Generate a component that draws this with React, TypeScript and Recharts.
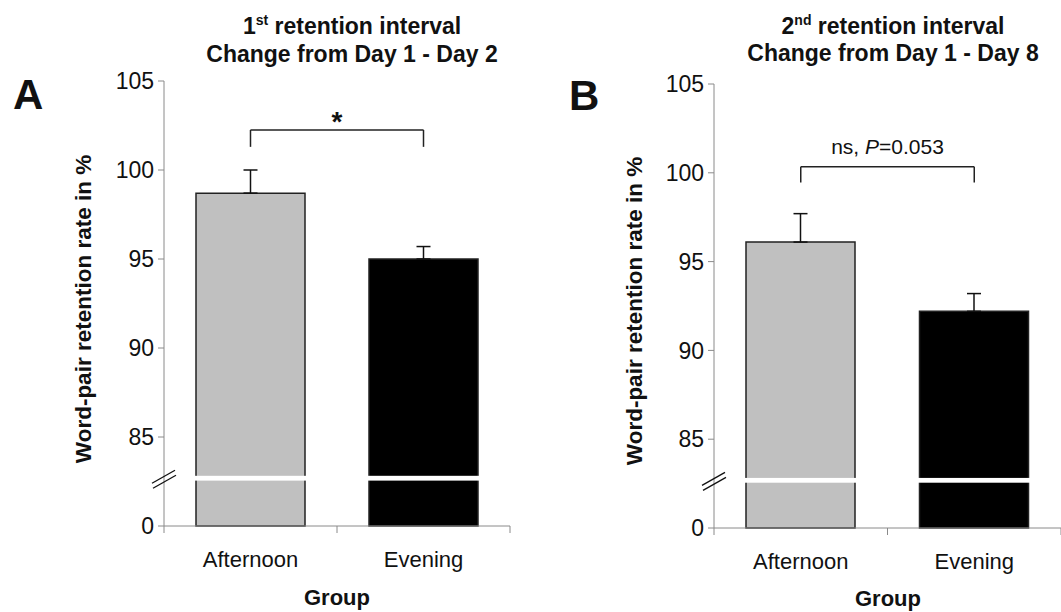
import { BarChart, Bar, XAxis, YAxis, ErrorBar, Cell, ReferenceLine, ReferenceArea } from 'recharts'

const FONT = '"Liberation Sans", Arial, Helvetica, sans-serif'
const AXIS = '#8a8a8a'
const INK = '#111'

const groups = ['Afternoon', 'Evening']
const barColors = ['#c0c0c0', '#000000']

// panel A: change Day 1 -> Day 2 (mean, upper SEM)
const day2Mean = [98.7, 95.0]
const day2Sem = [1.3, 0.7]
// panel B: change Day 1 -> Day 8
const day8Mean = [96.1, 92.2]
const day8Sem = [1.6, 1.0]

// broken axis: the bottom tick (80) is drawn as "0"
const yTicks = [80, 85, 90, 95, 100, 105]
const yDomain = [80, 105]
const breakBand = [82.55, 82.82]

const bracketA = { top: 102.25, foot: 101.3 }
const bracketB = { top: 100.34, foot: 99.45 }
const pValueB = '0.053'

const day2Data = groups.map((g, i) => ({ group: g, mean: day2Mean[i], err: [0, day2Sem[i]] }))
const day8Data = groups.map((g, i) => ({ group: g, mean: day8Mean[i], err: [0, day8Sem[i]] }))

function GroupTick(props: any) {
  const { x, y, payload, index } = props
  const half = typeof payload?.offset === 'number' && payload.offset > 0 ? payload.offset : 86.5
  return (
    <g>
      {index === 0 && <line x1={x - half} x2={x - half} y1={y} y2={y + 7} stroke={AXIS} />}
      <line x1={x + half} x2={x + half} y1={y} y2={y + 7} stroke={AXIS} />
      <text x={x} y={y + 41} textAnchor="middle" fontSize={22} fill={INK} fontFamily={FONT}>
        {payload.value}
      </text>
    </g>
  )
}

function AxisBreak(props: any) {
  const { x, y, width, height } = props
  const cy = y + height / 2
  return (
    <g>
      <rect x={x + 1} y={y} width={width} height={height} fill="#fff" />
      <line x1={x - 12} y1={cy + 5} x2={x + 11} y2={cy - 8} stroke={INK} strokeWidth={1.3} />
      <line x1={x - 11} y1={cy + 10} x2={x + 12} y2={cy - 3} stroke={INK} strokeWidth={1.3} />
    </g>
  )
}

function starLabel(props: any) {
  const vb = props.viewBox || {}
  const cx = vb.x + (vb.width || 0) / 2
  return (
    <text x={cx} y={vb.y + 1} textAnchor="middle" fontSize={28} fontWeight="bold" fill={INK} fontFamily={FONT}>
      *
    </text>
  )
}

function pLabel(props: any) {
  const vb = props.viewBox || {}
  const cx = vb.x + (vb.width || 0) / 2
  return (
    <text x={cx} y={vb.y - 13} textAnchor="middle" fontSize={21} fill={INK} fontFamily={FONT}>
      ns, <tspan fontStyle="italic">P</tspan>={pValueB}
    </text>
  )
}

function Panel({ data, width, margin, bracket, label }: any) {
  const line = { stroke: '#222', strokeWidth: 1.5 }
  return (
    <BarChart width={width} height={612} data={data} margin={margin}>
      <XAxis
        dataKey="group"
        stroke={AXIS}
        tickLine={false}
        tickSize={0}
        tickMargin={0}
        interval={0}
        tick={<GroupTick />}
      />
      <YAxis
        type="number"
        domain={yDomain}
        ticks={yTicks}
        interval={0}
        width={60}
        stroke={AXIS}
        tickSize={6}
        tickMargin={4}
        tick={{ fill: INK, fontSize: 23, fontFamily: FONT }}
        tickFormatter={(v: number) => (v === 80 ? '0' : String(v))}
      />
      <Bar dataKey="mean" barSize={109} stroke="#222" strokeWidth={1.5} isAnimationActive={false}>
        {data.map((d: any, i: number) => (
          <Cell key={d.group} fill={barColors[i]} />
        ))}
        <ErrorBar dataKey="err" width={7} stroke={INK} strokeWidth={1.5} isAnimationActive={false} />
      </Bar>
      <ReferenceLine
        segment={[{ x: groups[0], y: bracket.top }, { x: groups[1], y: bracket.top }]}
        {...line}
        label={{ content: label }}
      />
      <ReferenceLine segment={[{ x: groups[0], y: bracket.top }, { x: groups[0], y: bracket.foot }]} {...line} />
      <ReferenceLine segment={[{ x: groups[1], y: bracket.top }, { x: groups[1], y: bracket.foot }]} {...line} />
      <ReferenceArea y1={breakBand[0]} y2={breakBand[1]} ifOverflow="visible" shape={<AxisBreak />} zIndex={1500} />
    </BarChart>
  )
}

export default function App() {
  return (
    <div style={{ position: 'absolute', left: 0, top: 0, width: 1061, height: 612, background: '#fff' }}>
      <div style={{ position: 'absolute', left: 0, top: 0 }}>
        <Panel data={day2Data} width={530} margin={{ top: 81, right: 20, left: 104, bottom: 56 }} bracket={bracketA} label={starLabel} />
      </div>
      <div style={{ position: 'absolute', left: 530, top: 0 }}>
        <Panel data={day8Data} width={531} margin={{ top: 84, right: 0, left: 124, bottom: 54 }} bracket={bracketB} label={pLabel} />
      </div>
      <svg width={1061} height={612} style={{ position: 'absolute', left: 0, top: 0, pointerEvents: 'none' }} fontFamily={FONT} fill={INK}>
        <text x={13} y={109} fontSize={42} fontWeight="bold">A</text>
        <text x={569} y={110} fontSize={42} fontWeight="bold">B</text>

        <text x={352} y={34} textAnchor="middle" fontSize={23} fontWeight="bold">
          1<tspan fontSize={14} dy={-9}>st</tspan><tspan dy={9}> retention interval</tspan>
        </text>
        <text x={352} y={62} textAnchor="middle" fontSize={23} fontWeight="bold">Change from Day 1 - Day 2</text>
        <text x={893} y={34} textAnchor="middle" fontSize={23} fontWeight="bold">
          2<tspan fontSize={14} dy={-9}>nd</tspan><tspan dy={9}> retention interval</tspan>
        </text>
        <text x={893} y={61} textAnchor="middle" fontSize={23} fontWeight="bold">Change from Day 1 - Day 8</text>

        <text transform="translate(91, 309) rotate(-90)" textAnchor="middle" fontSize={22.5} fontWeight="bold">
          Word-pair retention rate in %
        </text>
        <text transform="translate(642, 311) rotate(-90)" textAnchor="middle" fontSize={22.5} fontWeight="bold">
          Word-pair retention rate in %
        </text>

        <text x={337} y={605} textAnchor="middle" fontSize={22} fontWeight="bold">Group</text>
        <text x={888} y={606} textAnchor="middle" fontSize={22} fontWeight="bold">Group</text>
      </svg>
    </div>
  )
}
